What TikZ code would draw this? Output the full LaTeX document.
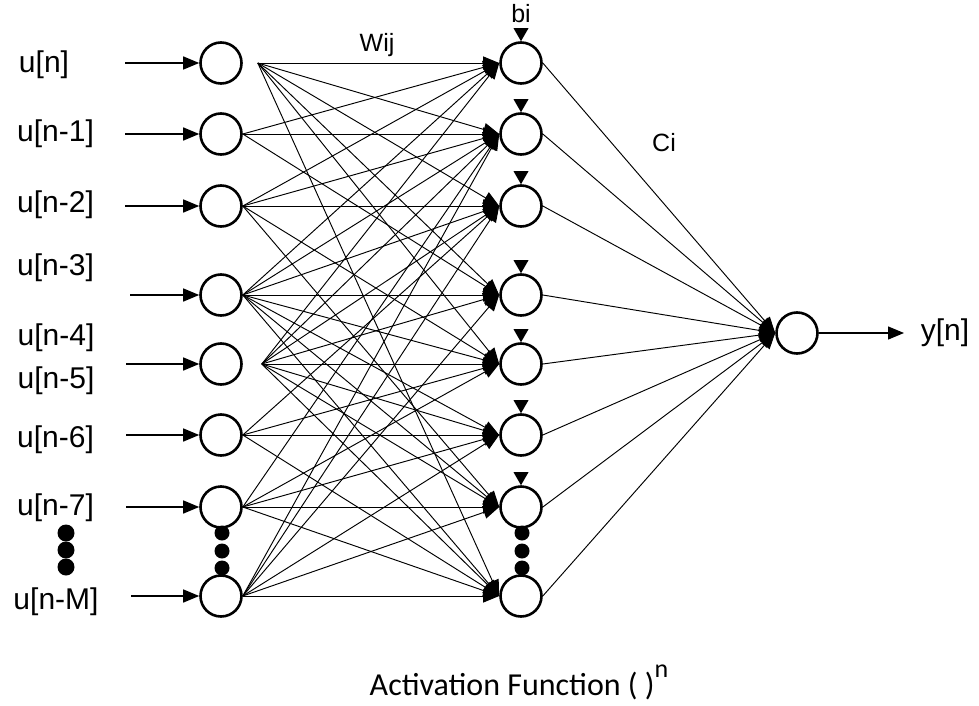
\documentclass[tikz,border=0pt]{standalone}
\usepackage{fontspec}
\setmainfont{Liberation Sans}
\newfontfamily\calib{Carlito}
\usetikzlibrary{arrows.meta,calc}
\begin{document}
\begin{tikzpicture}[x=1pt,y=-1pt,
  neuron/.style={circle,draw,line width=2.6pt,minimum size=41pt,inner sep=0pt},
  lbl/.style={font=\fontsize{30}{30}\selectfont,inner sep=0pt},
  small/.style={font=\fontsize{25}{25}\selectfont,inner sep=0pt},
  wire/.style={line width=0.95pt,-{Triangle[length=16pt,width=13pt]}},
  inarrow/.style={line width=1.4pt,-{Triangle[length=16pt,width=13pt]}},
  dot/.style={circle,fill,inner sep=0pt,minimum size=15pt},
  bigdot/.style={circle,fill,inner sep=0pt,minimum size=17pt}]
\useasboundingbox (0,0) rectangle (979,706);

% input and hidden neurons
\foreach \i/\y in {1/63,2/134,3/206,4/295,5/364,6/435,7/507,8/596}{
  \node[neuron] (i\i) at (221,\y) {};
  \node[neuron] (h\i) at (521,\y) {};
}
\node[neuron] (o) at (797,333) {};

% input labels
\node[lbl] (l1) at (44,65) {u[n]};
\node[lbl] (l2) at (55.5,134) {u[n-1]};
\node[lbl] (l3) at (55.5,205) {u[n-2]};
\node[lbl] (l4) at (55.5,268) {u[n-3]};
\node[lbl] (l5) at (56,338) {u[n-4]};
\node[lbl] (l6) at (56,381) {u[n-5]};
\node[lbl] (l7) at (55.5,440) {u[n-6]};
\node[lbl] (l8) at (55.5,508) {u[n-7]};
\node[lbl] (l9) at (56,602) {u[n-M]};

% input arrows
\foreach \i/\x in {1/125,2/125,3/125,4/130,5/126,6/126,7/126,8/131}{
  \coordinate (s\i) at (\x,0 |- i\i);
  \draw[inarrow] (s\i) -- (i\i);
}

% fan origins
\foreach \i in {2,3,4,6,7,8}{ \coordinate (f\i) at (i\i.east); }
\coordinate (f1) at ($(i1.east)+(15,0)$);
\coordinate (f5) at ($(i5.east)+(19,0)$);

% weights
\foreach \a/\bs in {1/{1,2,3,4,5,8},2/{1,2,4},3/{1,2,3,5,7},4/{1,2,3,4,5,6,7,8},
                    5/{1,2,3,4,5,6,7,8},6/{3,5,6,8},7/{2,5,6,7,8},8/{2,3,4,6,7,8}}{
  \foreach \b in \bs{
    \draw[wire] (f\a) -- (h\b.west);
  }
}

% hidden -> output
\foreach \b in {1,...,8}{
  \draw[wire] (h\b.east) -- (o.west);
}

% bias triangles
\foreach \i in {1,...,7}{
  \fill ($(h\i.north)+(-7.5,-13)$) -- ($(h\i.north)+(7.5,-13)$) -- (h\i.north) -- cycle;
}

% dots
\node[bigdot] (ld1) at (66,533) {};
\node[bigdot] (ld2) at (66,550) {};
\node[bigdot] (ld3) at (66,567) {};
\node[dot] (id1) at (222,533) {};
\node[dot] (id2) at (222,551) {};
\node[dot] (id3) at (222,568) {};
\node[dot] (hd1) at (522,533) {};
\node[dot] (hd2) at (522,551) {};
\node[dot] (hd3) at (522,568) {};

% output
\coordinate (yend) at (904,333);
\draw[inarrow] (o) -- (yend);
\node[lbl] (y) at (945,333) {y[n]};

% other labels
\node[small] (w) at (377,45) {Wij};
\node[small] (bb) at (521,14) {bi};
\node[small] (c) at (664,143) {Ci};
\node[font=\calib\fontsize{32}{32}\selectfont,inner sep=0pt,anchor=base] (act) at (519,695)
  {Activation Function ( )\raisebox{18pt}{\fontsize{26}{26}\selectfont n}};
\end{tikzpicture}
\end{document}
